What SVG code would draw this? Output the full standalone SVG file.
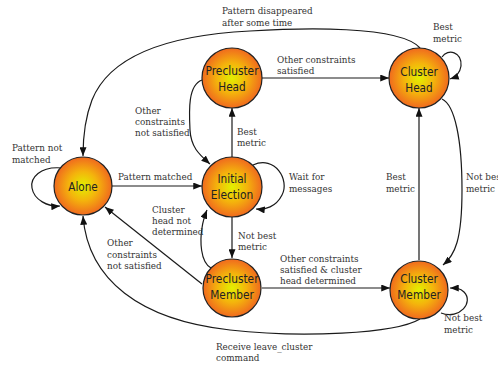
<svg xmlns="http://www.w3.org/2000/svg" width="498" height="367" viewBox="0 0 498 367">
<defs>
<radialGradient id="g" cx="50%" cy="50%" r="50%">
<stop offset="0" stop-color="#e2f000"/>
<stop offset="0.5" stop-color="#f4b40c"/>
<stop offset="1" stop-color="#f06a1e"/>
</radialGradient>
<marker id="a" viewBox="0 0 10 8" refX="10" refY="4" markerWidth="9" markerHeight="7" markerUnits="userSpaceOnUse" orient="auto">
<path d="M0,0 L10,4 L0,8 z" fill="#111"/>
</marker>
<style>
.n{fill:url(#g);stroke:#222;stroke-width:1.2}
.t{font-family:"DejaVu Sans",sans-serif;font-size:12px;fill:#222;text-anchor:middle}
.l{font-family:"DejaVu Serif",serif;font-size:8.8px;fill:#333}
.e{fill:none;stroke:#1a1a1a;stroke-width:1.2;marker-end:url(#a)}
</style>
</defs>
<g id="connectors">
<path class="e" d="M262,78 L389,78"/>
<path class="e" d="M420,48 C400,25 300,28 250,31 C170,35 110,55 92,100 C85,118 83,135 83,156"/>
<path class="e" d="M442,57 C448,48 462,52 461,66 C460,73 456,77 450,79"/>
<path class="e" d="M442,99 C455,105 462,140 462,190 C462,240 455,255 443,265"/>
<path class="e" d="M419,260 L419,108"/>
<path class="e" d="M262,288 L390,288"/>
<path class="e" d="M441,313 C460,320 474,302 464,292 C460,288 456,288 450,288"/>
<path class="e" d="M420,319 C395,334 300,338 230,330 C140,320 88,280 83,216"/>
<path class="e" d="M253,165 C275,155 290,180 282,195 C276,207 265,210 256,209"/>
<path class="e" d="M112,186 L202,186"/>
<path class="e" d="M232,157 L232,108"/>
<path class="e" d="M202,80 C188,85 189,110 190,130 C191,148 200,155 210,164"/>
<path class="e" d="M232,217 L232,258"/>
<path class="e" d="M211,268 C200,262 200,240 202,228 C203,220 205,215 207,210"/>
<path class="e" d="M202,284 L105,207"/>
<path class="e" d="M62,168 C40,166 30,178 32,188 C34,200 48,207 60,206"/>
</g>
<g id="labels">
<text class="l" x="222" y="14">Pattern disappeared</text>
<text class="l" x="222" y="25.5">after some time</text>
<text class="l" x="433" y="30">Best</text>
<text class="l" x="433" y="41.5">metric</text>
<text class="l" x="277" y="62.5">Other constraints</text>
<text class="l" x="277" y="74">satisfied</text>
<text class="l" x="135" y="113.5">Other</text>
<text class="l" x="135" y="124.5">constraints</text>
<text class="l" x="135" y="135.5">not satisfied</text>
<text class="l" x="237" y="134.5">Best</text>
<text class="l" x="237" y="145.5">metric</text>
<text class="l" x="12" y="151">Pattern not</text>
<text class="l" x="12" y="162.5">matched</text>
<text class="l" x="118" y="180">Pattern matched</text>
<text class="l" x="289" y="180">Wait for</text>
<text class="l" x="289" y="192">messages</text>
<text class="l" x="386" y="180">Best</text>
<text class="l" x="386" y="192">metric</text>
<text class="l" x="466" y="180">Not best</text>
<text class="l" x="466" y="192">metric</text>
<text class="l" x="152" y="212.5">Cluster</text>
<text class="l" x="152" y="223.5">head not</text>
<text class="l" x="152" y="234.5">determined</text>
<text class="l" x="238" y="238.5">Not best</text>
<text class="l" x="238" y="249.5">metric</text>
<text class="l" x="107" y="246">Other</text>
<text class="l" x="107" y="257.5">constraints</text>
<text class="l" x="107" y="268.5">not satisfied</text>
<text class="l" x="280" y="261.5">Other constraints</text>
<text class="l" x="280" y="273">satisfied &amp; cluster</text>
<text class="l" x="280" y="284">head determined</text>
<text class="l" x="444" y="321">Not best</text>
<text class="l" x="444" y="332.5">metric</text>
<text class="l" x="216" y="350">Receive leave_cluster</text>
<text class="l" x="216" y="361">command</text>
</g>
<g id="alone"><circle class="n" cx="83" cy="186" r="29"/><text class="t" x="83" y="191" textLength="29.5" lengthAdjust="spacingAndGlyphs">Alone</text></g>
<g id="initial-election"><circle class="n" cx="232" cy="187" r="30"/><text class="t" x="232" y="183" textLength="29" lengthAdjust="spacingAndGlyphs">Initial</text><text class="t" x="232" y="199" textLength="42.5" lengthAdjust="spacingAndGlyphs">Election</text></g>
<g id="precluster-head"><circle class="n" cx="232" cy="78" r="30"/><text class="t" x="232" y="75" textLength="53" lengthAdjust="spacingAndGlyphs">Precluster</text><text class="t" x="232" y="91" textLength="27.5" lengthAdjust="spacingAndGlyphs">Head</text></g>
<g id="cluster-head"><circle class="n" cx="419" cy="78" r="30"/><text class="t" x="419" y="76" textLength="37.5" lengthAdjust="spacingAndGlyphs">Cluster</text><text class="t" x="419" y="92" textLength="27.5" lengthAdjust="spacingAndGlyphs">Head</text></g>
<g id="precluster-member"><circle class="n" cx="232" cy="288" r="29"/><text class="t" x="232" y="283" textLength="53" lengthAdjust="spacingAndGlyphs">Precluster</text><text class="t" x="232" y="299" textLength="43.5" lengthAdjust="spacingAndGlyphs">Member</text></g>
<g id="cluster-member"><circle class="n" cx="419" cy="290" r="29"/><text class="t" x="419" y="283" textLength="37.5" lengthAdjust="spacingAndGlyphs">Cluster</text><text class="t" x="419" y="299" textLength="43.5" lengthAdjust="spacingAndGlyphs">Member</text></g>
</svg>
